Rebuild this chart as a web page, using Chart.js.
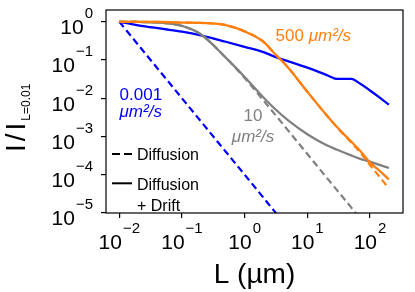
<!DOCTYPE html>
<html>
<head>
<meta charset="utf-8">
<script src="https://cdn.jsdelivr.net/npm/chart.js@4.4.1/dist/chart.umd.min.js"></script>
<style>
html, body { margin: 0; padding: 0; background: #fff; }
</style>
</head>
<body>
<canvas id="grafico" width="415" height="292"></canvas>
<script>
// Longitud L (µm), rejilla común para todas las curvas
const longitudes = [0.01, 0.02, 0.05, 0.1, 0.2, 0.5, 1, 2, 3, 5, 10, 20, 30, 50, 70, 100, 150, 200];

// I / I(L=0.01)
const azulDifusion   = [1, 0.25, 0.04, 0.01, 2.5e-3, 4e-4, 1e-4, 2.5e-5, 1.1e-5, 4e-6, null, null, null, null, null, null, null, null];
const azulDeriva     = [1, 0.81, 0.65, 0.55, 0.44, 0.30, 0.22, 0.16, 0.123, 0.092, 0.063, 0.041, 0.032, 0.032, 0.024, 0.016, 0.0098, 0.0068];
const grisDifusion   = [1, 0.99, 0.93, 0.78, 0.47, 0.115, 0.034, 8.7e-3, 3.9e-3, 1.4e-3, 3.5e-4, 8.7e-5, 3.9e-5, 1.4e-5, 7e-6, null, null, null];
const grisDeriva     = [1, 0.99, 0.93, 0.78, 0.47, 0.115, 0.036, 0.0105, 5.4e-3, 2.6e-3, 1.15e-3, 6.0e-4, 4.5e-4, 3.2e-4, 2.6e-4, 2.2e-4, 1.75e-4, 1.5e-4];
const naranjaDifusion = [1, 0.995, 0.985, 0.955, 0.93, 0.82, 0.56, 0.30, 0.148, 0.062, 0.0148, 3.7e-3, 1.7e-3, 7.0e-4, 3.8e-4, 1.8e-4, 7.9e-5, 4.4e-5];
const naranjaDeriva   = [1, 0.995, 0.985, 0.955, 0.93, 0.82, 0.56, 0.30, 0.148, 0.062, 0.0148, 3.7e-3, 1.74e-3, 7.4e-4, 4.2e-4, 2.1e-4, 1.17e-4, 7.6e-5];

// Decadas con marca en cada eje
const decadasX = [-2, -1, 0, 1, 2];
const decadasY = [-5, -4, -3, -2, -1, 0];

const AZUL = '#0000ff', GRIS = '#808080', NARANJA = '#ff7f0e';
const FUENTE = '"Liberation Sans", Arial, sans-serif';

function puntos(serie) {
    return longitudes.map((L, i) => ({ x: L, y: serie[i] }));
}

function linea(serie, color, discontinua) {
    return {
        data: puntos(serie),
        borderColor: color,
        borderWidth: discontinua ? 2.2 : 2.3,
        borderDash: discontinua ? [7, 4] : [],
        pointRadius: 0,
        cubicInterpolationMode: 'monotone',
        fill: false
    };
}

// dibuja 10^n con superíndice
function potencia(ctx, exp, x, yBase, alinear) {
    const base = '10';
    const sup = exp < 0 ? '\u2212' + (-exp) : String(exp);
    ctx.font = '21px ' + FUENTE;
    const wb = ctx.measureText(base).width;
    ctx.font = '15px ' + FUENTE;
    const ws = ctx.measureText(sup).width;
    const total = wb + ws + 1;
    const x0 = alinear === 'right' ? x - total : x - total / 2;
    ctx.font = '21px ' + FUENTE;
    ctx.fillText(base, x0, yBase);
    ctx.font = '15px ' + FUENTE;
    ctx.fillText(sup, x0 + wb + 1, yBase - 16);
}

// textos sobre las curvas (posición en coordenadas de datos)
const anotaciones = [
    { lineas: ['0.001', '\u03bcm\u00b2/s'], color: AZUL, L: 0.0101, I: 0.0092, alinear: 'left', salto: 17 },
    { lineas: ['500 \u03bcm\u00b2/s'], color: NARANJA, L: 3.12, I: 0.322, alinear: 'left', salto: 0 },
    { lineas: ['10', '\u03bcm\u00b2/s'], color: GRIS, L: 1.36, I: 2.47e-3, alinear: 'center', salto: 20.5 }
];

const decoracion = {
    id: 'decoracion',
    afterDraw(chart) {
        const { ctx, chartArea: a, scales: { x, y } } = chart;
        ctx.save();

        // marco
        ctx.strokeStyle = '#000';
        ctx.lineWidth = 1.2;
        ctx.strokeRect(a.left, a.top, a.right - a.left, a.bottom - a.top);

        // etiquetas de las marcas
        ctx.fillStyle = '#000';
        ctx.textAlign = 'left';
        ctx.textBaseline = 'alphabetic';
        decadasY.forEach(e => potencia(ctx, e, a.left - 13, y.getPixelForValue(Math.pow(10, e)) + 12.4, 'right'));
        decadasX.forEach(e => potencia(ctx, e, x.getPixelForValue(Math.pow(10, e)), a.bottom + 35.5, 'center'));

        // título eje x
        ctx.font = '28px ' + FUENTE;
        ctx.textAlign = 'center';
        ctx.fillText('L (\u00b5m)', (a.left + a.right) / 2, a.bottom + 70);

        // título eje y: I/I con subíndice
        ctx.save();
        ctx.translate(25, 152);
        ctx.rotate(-Math.PI / 2);
        ctx.textAlign = 'left';
        ctx.font = '28px ' + FUENTE;
        let px = 0;
        ['I', '/', 'I'].forEach(c => {
            ctx.fillText(c, px, 0);
            px += ctx.measureText(c).width + 3;
        });
        ctx.font = '12px ' + FUENTE;
        ctx.fillText('L=0.01', px - 1, 5);
        ctx.restore();

        // anotaciones
        anotaciones.forEach(an => {
            const ax = x.getPixelForValue(an.L);
            const ay = y.getPixelForValue(an.I);
            ctx.fillStyle = an.color;
            ctx.textAlign = an.alinear;
            an.lineas.forEach((t, i) => {
                ctx.font = (t.indexOf('\u03bc') >= 0 ? 'italic ' : '') + '17px ' + FUENTE;
                if (t.startsWith('500')) {
                    ctx.font = '17px ' + FUENTE;
                    ctx.fillText('500 ', ax, ay);
                    const w = ctx.measureText('500 ').width;
                    ctx.font = 'italic 17px ' + FUENTE;
                    ctx.fillText('\u03bcm\u00b2/s', ax + w, ay);
                } else {
                    ctx.fillText(t, ax, ay + i * an.salto);
                }
            });
        });

        // leyenda
        ctx.strokeStyle = '#000';
        ctx.lineWidth = 2;
        ctx.setLineDash([8, 4]);
        ctx.beginPath();
        ctx.moveTo(a.left + 6, a.top + 144);
        ctx.lineTo(a.left + 26, a.top + 144);
        ctx.stroke();
        ctx.setLineDash([]);
        ctx.beginPath();
        ctx.moveTo(a.left + 6, a.top + 173.3);
        ctx.lineTo(a.left + 26, a.top + 173.3);
        ctx.stroke();
        ctx.fillStyle = '#000';
        ctx.textAlign = 'left';
        ctx.font = '16px ' + FUENTE;
        ctx.fillText('Diffusion', a.left + 31, a.top + 149.5);
        ctx.fillText('Diffusion', a.left + 31, a.top + 179.5);
        ctx.fillText('+ Drift', a.left + 31, a.top + 200.5);

        ctx.restore();
    }
};

const ejeComun = {
    type: 'logarithmic',
    ticks: { display: false },
    border: { display: false },
    grid: { drawOnChartArea: false, drawTicks: true, tickLength: 5, color: '#000', lineWidth: 1.2 }
};

new Chart(document.getElementById('grafico').getContext('2d'), {
    type: 'line',
    data: {
        // el primero se pinta encima
        datasets: [
            linea(naranjaDeriva, NARANJA, false),
            linea(naranjaDifusion, NARANJA, true),
            linea(grisDeriva, GRIS, false),
            linea(grisDifusion, GRIS, true),
            linea(azulDeriva, AZUL, false),
            linea(azulDifusion, AZUL, true)
        ]
    },
    options: {
        responsive: false,
        animation: false,
        layout: { padding: { left: 0, right: 12, top: 10, bottom: 0 } },
        plugins: { legend: { display: false }, tooltip: { enabled: false } },
        scales: {
            x: Object.assign({}, ejeComun, {
                min: 0.00614, max: 336,
                afterBuildTicks: s => { s.ticks = decadasX.map(e => ({ value: Math.pow(10, e), major: true })); },
                afterFit: s => { s.height = 79; }
            }),
            y: Object.assign({}, ejeComun, {
                min: 1e-5, max: 2.03,
                afterBuildTicks: s => { s.ticks = decadasY.map(e => ({ value: Math.pow(10, e), major: true })); },
                afterFit: s => { s.width = 106; }
            })
        }
    },
    plugins: [decoracion]
});
</script>
</body>
</html>
